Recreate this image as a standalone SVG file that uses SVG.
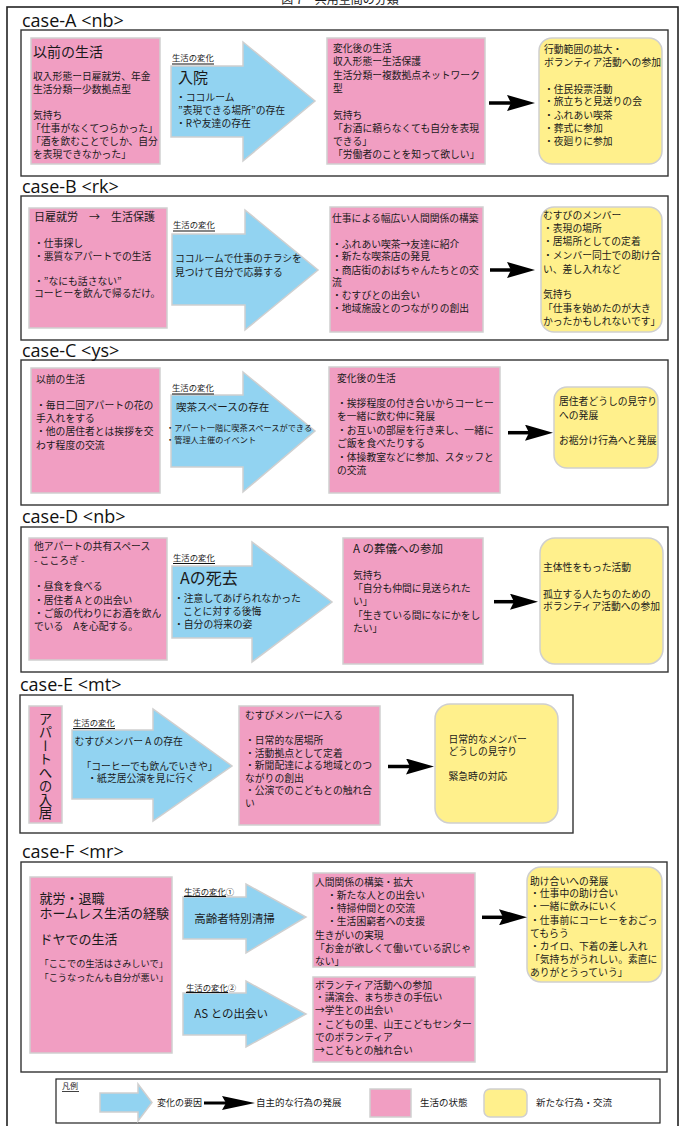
<svg xmlns="http://www.w3.org/2000/svg" width="681" height="1126" viewBox="0 0 681 1126">
<defs>
<style>
.frame{fill:none;stroke:#222;stroke-width:1.6}
.case{fill:none;stroke:#333;stroke-width:1.4}
.lbl{font-family:"Open Sans","Liberation Sans",sans-serif;font-size:18px;fill:#111}
.pk{fill:#f19ec2;stroke:#cfcfcf;stroke-width:1.5}
.yl{fill:#fff08c;stroke:#cfcfcf;stroke-width:1.5}
.bl{fill:#92d3f1;stroke:#cfcfcf;stroke-width:1.5}
.t{font-family:"Noto Sans CJK JP","Noto Sans CJK SC",sans-serif;font-size:9.8px;fill:#1a1a1a}
.s{font-size:8.4px}
.ul{stroke:#111;stroke-width:1.2}
.con{stroke:#000;stroke-width:3.5;fill:none;marker-end:url(#head)}
</style>
<marker id="head" viewBox="0 0 28 16" refX="4" refY="8" markerWidth="28" markerHeight="16" markerUnits="userSpaceOnUse" orient="auto">
<path d="M0,0 L28,8 L0,16 L4,8 z" fill="#000"/>
</marker>
</defs>
<rect width="681" height="1126" fill="#fff"/>
<g id="title">
<text x="340" y="4" text-anchor="middle" class="t" style="font-size:12px">図 7　共用空間の分類</text>
</g>
<rect class="frame" x="7" y="7" width="671" height="1130"/>

<!-- case A -->
<g id="case-A">
<rect class="case" x="21" y="30" width="647" height="146"/>
<text class="lbl" x="22" y="27">case-A  &lt;nb&gt;</text>
</g>
<g id="A-before">
<rect class="pk" x="31" y="38" width="129" height="126"/>
<text class="t" x="33" y="57" style="font-size:14px">以前の生活</text>
<text class="t" x="33" y="80">収入形態ー日雇就労、年金</text>
<text class="t" x="33" y="93">生活分類ー少数拠点型</text>
<text class="t" x="33" y="119">気持ち</text>
<text class="t" x="31" y="132">「仕事がなくてつらかった」</text>
<text class="t" x="31" y="145">「酒を飲むことでしか、自分</text>
<text class="t" x="33" y="158">を表現できなかった」</text>
</g>
<g id="A-change">
<polygon class="bl" points="171,66 243,66 243,42 315,101 243,161 243,137 171,137"/>
<text class="t s" x="172" y="61">生活の変化</text>
<line class="ul" x1="172" y1="64" x2="214" y2="64"/>
<text class="t" x="178" y="83" style="font-size:15px">入院</text>
<text class="t" x="176" y="101">・ココルーム</text>
<text class="t" x="178" y="114">”表現できる場所”の存在</text>
<text class="t" x="176" y="127">・Rや友達の存在</text>
</g>
<g id="A-after">
<rect class="pk" x="327" y="38" width="158" height="126"/>
<text class="t" x="333" y="52">変化後の生活</text>
<text class="t" x="333" y="65.3">収入形態ー生活保護</text>
<text class="t" x="333" y="78.6">生活分類ー複数拠点ネットワーク</text>
<text class="t" x="333" y="92">型</text>
<text class="t" x="333" y="118.6">気持ち</text>
<text class="t" x="333" y="132">「お酒に頼らなくても自分を表現</text>
<text class="t" x="333" y="144.6">できる」</text>
<text class="t" x="333" y="157.6">「労働者のことを知って欲しい」</text>
</g>
<g id="A-new">
<rect class="yl" x="539" y="38" width="123" height="126" rx="13"/>
<text class="t" x="544" y="53">行動範囲の拡大・</text>
<text class="t" x="544" y="66.3">ボランティア活動への参加</text>
<text class="t" x="544" y="93">・住民投票活動</text>
<text class="t" x="544" y="105.3">・旅立ちと見送りの会</text>
<text class="t" x="544" y="118.6">・ふれあい喫茶</text>
<text class="t" x="544" y="132">・葬式に参加</text>
<text class="t" x="544" y="145.3">・夜廻りに参加</text>
</g>

<!-- case B -->
<g id="case-B">
<rect class="case" x="21" y="196" width="647" height="144"/>
<text class="lbl" x="22" y="193">case-B  &lt;rk&gt;</text>
</g>
<g id="B-before">
<rect class="pk" x="29" y="208" width="138" height="120"/>
<text class="t" x="34" y="220.7" style="font-size:11px">日雇就労　→　生活保護</text>
<text class="t" x="34" y="247">・仕事探し</text>
<text class="t" x="34" y="260.3">・悪質なアパートでの生活</text>
<text class="t" x="34" y="284.6">・”なにも話さない”</text>
<text class="t" x="34" y="297">コーヒーを飲んで帰るだけ。</text>
</g>
<g id="B-change">
<polygon class="bl" points="172,234 245,234 245,210 318,270 245,330 245,305 172,305"/>
<text class="t s" x="173" y="228">生活の変化</text>
<line class="ul" x1="173" y1="231" x2="215" y2="231"/>
<text class="t" x="175" y="261.6">ココルームで仕事のチラシを</text>
<text class="t" x="175" y="275.6">見つけて自分で応募する</text>
</g>
<g id="B-after">
<rect class="pk" x="330" y="207" width="153" height="125"/>
<text class="t" x="332" y="221.6">仕事による幅広い人間関係の構築</text>
<text class="t" x="332" y="248">・ふれあい喫茶→友達に紹介</text>
<text class="t" x="332" y="260.3">・新たな喫茶店の発見</text>
<text class="t" x="332" y="273.6">・商店街のおばちゃんたちとの交</text>
<text class="t" x="332" y="286">流</text>
<text class="t" x="332" y="298.6">・むすびとの出会い</text>
<text class="t" x="332" y="312">・地域施設とのつながりの創出</text>
</g>
<g id="B-new">
<rect class="yl" x="541" y="207" width="121" height="125" rx="13"/>
<text class="t" x="543" y="218.6">むすびのメンバー</text>
<text class="t" x="543" y="232">・表現の場所</text>
<text class="t" x="543" y="245.3">・居場所としての定着</text>
<text class="t" x="543" y="259.3">・メンバー同士での助け合</text>
<text class="t" x="543" y="272.6">い、差し入れなど</text>
<text class="t" x="543" y="298">気持ち</text>
<text class="t" x="543" y="312">「仕事を始めたのが大き</text>
<text class="t" x="543" y="325.3">かったかもしれないです」</text>
</g>

<!-- case C -->
<g id="case-C">
<rect class="case" x="21" y="360" width="647" height="145"/>
<text class="lbl" x="22" y="357">case-C  &lt;ys&gt;</text>
</g>
<g id="C-before">
<rect class="pk" x="31" y="368" width="129" height="125"/>
<text class="t" x="36" y="383">以前の生活</text>
<text class="t" x="36" y="408.6">・毎日二回アパートの花の</text>
<text class="t" x="36" y="422">手入れをする</text>
<text class="t" x="36" y="435.3">・他の居住者とは挨拶を交</text>
<text class="t" x="36" y="448.6">わす程度の交流</text>
</g>
<g id="C-change">
<polygon class="bl" points="171,395 243,395 243,372 315,431 243,492 243,467 171,467"/>
<text class="t s" x="172" y="391.3">生活の変化</text>
<line class="ul" x1="172" y1="394" x2="214" y2="394"/>
<text class="t" x="176" y="411" style="font-size:10.5px">喫茶スペースの存在</text>
<text class="t" x="166" y="431.3" style="font-size:8.2px">・アパート一階に喫茶スペースができる</text>
<text class="t" x="166" y="443" style="font-size:8.2px">・管理人主催のイベント</text>
</g>
<g id="C-after">
<rect class="pk" x="329" y="367" width="171" height="126"/>
<text class="t" x="337" y="382">変化後の生活</text>
<text class="t" x="337" y="407">・挨拶程度の付き合いからコーヒー</text>
<text class="t" x="337" y="420.3">を一緒に飲む仲に発展</text>
<text class="t" x="337" y="433.6">・お互いの部屋を行き来し、一緒に</text>
<text class="t" x="337" y="447">ご飯を食べたりする</text>
<text class="t" x="337" y="461.3">・体操教室などに参加、スタッフと</text>
<text class="t" x="337" y="473.6">の交流</text>
</g>
<g id="C-new">
<rect class="yl" x="554" y="387" width="104" height="81" rx="13"/>
<text class="t" x="559" y="405.3">居住者どうしの見守り</text>
<text class="t" x="559" y="418.6">への発展</text>
<text class="t" x="559" y="444.3">お裾分け行為へと発展</text>
</g>

<!-- case D -->
<g id="case-D">
<rect class="case" x="21" y="527" width="647" height="145"/>
<text class="lbl" x="22" y="523">case-D  &lt;nb&gt;</text>
</g>
<g id="D-before">
<rect class="pk" x="29" y="538" width="138" height="122"/>
<text class="t" x="34" y="550.3">他アパートの共有スペース</text>
<text class="t" x="34" y="563.6">- こころぎ -</text>
<text class="t" x="34" y="590.3">・昼食を食べる</text>
<text class="t" x="34" y="603.6">・居住者 A との出会い</text>
<text class="t" x="34" y="617">・ご飯の代わりにお酒を飲ん</text>
<text class="t" x="34" y="630.3">でいる　Aを心配する。</text>
</g>
<g id="D-change">
<polygon class="bl" points="172,566 252,566 252,542 332,602 252,662 252,638 172,638"/>
<text class="t s" x="173" y="560.7">生活の変化</text>
<line class="ul" x1="173" y1="563.5" x2="215" y2="563.5"/>
<text class="t" x="180" y="583.5" style="font-size:16px">Aの死去</text>
<text class="t" x="174" y="602">・注意してあげられなかった</text>
<text class="t" x="183" y="615.3">ことに対する後悔</text>
<text class="t" x="174" y="628">・自分の将来の姿</text>
</g>
<g id="D-after">
<rect class="pk" x="343" y="538" width="140" height="126"/>
<text class="t" x="353" y="552.5" style="font-size:11.5px">A の葬儀への参加</text>
<text class="t" x="353" y="578.6">気持ち</text>
<text class="t" x="353" y="592">「自分も仲間に見送られた</text>
<text class="t" x="353" y="605.3">い」</text>
<text class="t" x="353" y="618.6">「生きている間になにかをし</text>
<text class="t" x="353" y="632">たい」</text>
</g>
<g id="D-new">
<rect class="yl" x="540" y="538" width="123" height="126" rx="15"/>
<text class="t" x="543" y="571.3">主体性をもった活動</text>
<text class="t" x="543" y="598">孤立する人たちのための</text>
<text class="t" x="543" y="610.3">ボランティア活動への参加</text>
</g>

<!-- case E -->
<g id="case-E">
<rect class="case" x="20" y="695" width="553" height="138"/>
<text class="lbl" x="20" y="691">case-E  &lt;mt&gt;</text>
</g>
<g id="E-before">
<rect class="pk" x="29" y="706" width="33" height="117"/>
<text class="t" x="45.5" y="712" style="font-size:13.5px;writing-mode:vertical-rl">アパートへの入居</text>
</g>
<g id="E-change">
<polygon class="bl" points="72,730 153,730 153,709 232,766 153,821 153,799 72,799"/>
<text class="t s" x="73" y="725.6">生活の変化</text>
<line class="ul" x1="73" y1="728.5" x2="115" y2="728.5"/>
<text class="t" x="74.6" y="745">むすびメンバー A の存在</text>
<text class="t" x="81.5" y="769.5">「コーヒーでも飲んでいきや」</text>
<text class="t" x="87.3" y="781.5">・紙芝居公演を見に行く</text>
</g>
<g id="E-after">
<rect class="pk" x="239" y="706" width="141" height="119"/>
<text class="t" x="245" y="719">むすびメンバーに入る</text>
<text class="t" x="245" y="744">・日常的な居場所</text>
<text class="t" x="245" y="756.6">・活動拠点として定着</text>
<text class="t" x="245" y="769.2">・新聞配達による地域とのつ</text>
<text class="t" x="245" y="781.8">ながりの創出</text>
<text class="t" x="245" y="794.4">・公演でのこどもとの触れ合</text>
<text class="t" x="245" y="807">い</text>
</g>
<g id="E-new">
<rect class="yl" x="435" y="704" width="123" height="119" rx="15"/>
<text class="t" x="448.5" y="742.6">日常的なメンバー</text>
<text class="t" x="448.5" y="754.6">どうしの見守り</text>
<text class="t" x="448.5" y="780">緊急時の対応</text>
</g>

<!-- case F -->
<g id="case-F">
<rect class="case" x="21" y="862" width="646" height="210"/>
<text class="lbl" x="22" y="858">case-F  &lt;mr&gt;</text>
</g>
<g id="F-before">
<rect class="pk" x="30" y="877" width="142" height="176"/>
<text class="t" x="39.5" y="903" style="font-size:13px">就労・退職</text>
<text class="t" x="39.5" y="917.5" style="font-size:13px">ホームレス生活の経験</text>
<text class="t" x="39.5" y="944" style="font-size:13px">ドヤでの生活</text>
<text class="t" x="39.5" y="967.4" style="font-size:9.2px">「ここでの生活はさみしいで」</text>
<text class="t" x="39.5" y="980.7" style="font-size:9.2px">「こうなったんも自分が悪い」</text>
</g>
<g id="F-change1">
<polygon class="bl" points="183,897 246,897 246,884 306,917 246,953 246,939 183,939"/>
<text class="t s" x="184" y="894.7">生活の変化①</text>
<line class="ul" x1="184" y1="896.5" x2="226" y2="896.5"/>
<text class="t" x="194.3" y="922.5" style="font-size:11.5px">高齢者特別清掃</text>
</g>
<g id="F-change2">
<polygon class="bl" points="183,993 246,993 246,981 306,1014 246,1047 246,1035 183,1035"/>
<text class="t s" x="186" y="990.7">生活の変化②</text>
<line class="ul" x1="186" y1="992.5" x2="228" y2="992.5"/>
<text class="t" x="194.3" y="1018" style="font-size:11.5px">AS との出会い</text>
</g>
<g id="F-after1">
<rect class="pk" x="313" y="873" width="162" height="94"/>
<text class="t" x="315" y="886.3">人間関係の構築・拡大</text>
<text class="t" x="327" y="898.6">・新たな人との出会い</text>
<text class="t" x="327" y="912">・特掃仲間との交流</text>
<text class="t" x="327" y="925.3">・生活困窮者への支援</text>
<text class="t" x="315" y="938.6">生きがいの実現</text>
<text class="t" x="315" y="952">「お金が欲しくて働いている訳じゃ</text>
<text class="t" x="315" y="965.3">ない」</text>
</g>
<g id="F-after2">
<rect class="pk" x="313" y="977" width="162" height="85"/>
<text class="t" x="315" y="988.6">ボランティア活動への参加</text>
<text class="t" x="315" y="1001.3">・講演会、まち歩きの手伝い</text>
<text class="t" x="315" y="1014.3">→学生との出会い</text>
<text class="t" x="315" y="1028">・こどもの里、山王こどもセンター</text>
<text class="t" x="315" y="1041">でのボランティア</text>
<text class="t" x="315" y="1054.3">→こどもとの触れ合い</text>
</g>
<g id="F-new">
<rect class="yl" x="527" y="867" width="135" height="115" rx="14"/>
<text class="t" x="530" y="884.6">助け合いへの発展</text>
<text class="t" x="530" y="897">・仕事中の助け合い</text>
<text class="t" x="530" y="910.3">・一緒に飲みにいく</text>
<text class="t" x="530" y="923.6">・仕事前にコーヒーをおごっ</text>
<text class="t" x="530" y="937">てもらう</text>
<text class="t" x="530" y="950.3">・カイロ、下着の差し入れ</text>
<text class="t" x="530" y="963">「気持ちがうれしい。素直に</text>
<text class="t" x="530" y="976.3">ありがとうっていう」</text>
</g>

<g id="connectors">
<line class="con" x1="489" y1="103" x2="511" y2="103"/>
<line class="con" x1="490" y1="270" x2="511" y2="270"/>
<line class="con" x1="508" y1="432.7" x2="529" y2="432.7"/>
<line class="con" x1="494" y1="601.7" x2="514" y2="601.7"/>
<line class="con" x1="388" y1="766.5" x2="410" y2="766.5"/>
<line class="con" x1="482" y1="917.3" x2="503" y2="917.3"/>
</g>

<g id="legend">
<rect x="56" y="1079" width="604" height="44" fill="#fff" stroke="#222" stroke-width="1.2"/>
<text class="t" x="62" y="1089" style="font-size:8px">凡例</text>
<line class="ul" x1="62" y1="1091.5" x2="79" y2="1091.5" style="stroke-width:0.8"/>
<polygon class="bl" points="100,1093 138,1093 138,1084 152,1102.5 138,1121 138,1112 100,1112"/>
<text class="t" x="157" y="1106" style="font-size:9px">変化の要因</text>
<line x1="204" y1="1103" x2="226" y2="1103" stroke="#000" stroke-width="3"/>
<polygon points="222,1096 255,1103 222,1110 226,1103" fill="#000"/>
<text class="t" x="256" y="1106" style="font-size:9.5px">自主的な行為の発展</text>
<rect class="pk" x="370" y="1089" width="41" height="28"/>
<text class="t" x="420" y="1106" style="font-size:9.5px">生活の状態</text>
<rect class="yl" x="484" y="1089" width="43" height="28" rx="6"/>
<text class="t" x="536" y="1106" style="font-size:9.5px">新たな行為・交流</text>
</g>
</svg>
